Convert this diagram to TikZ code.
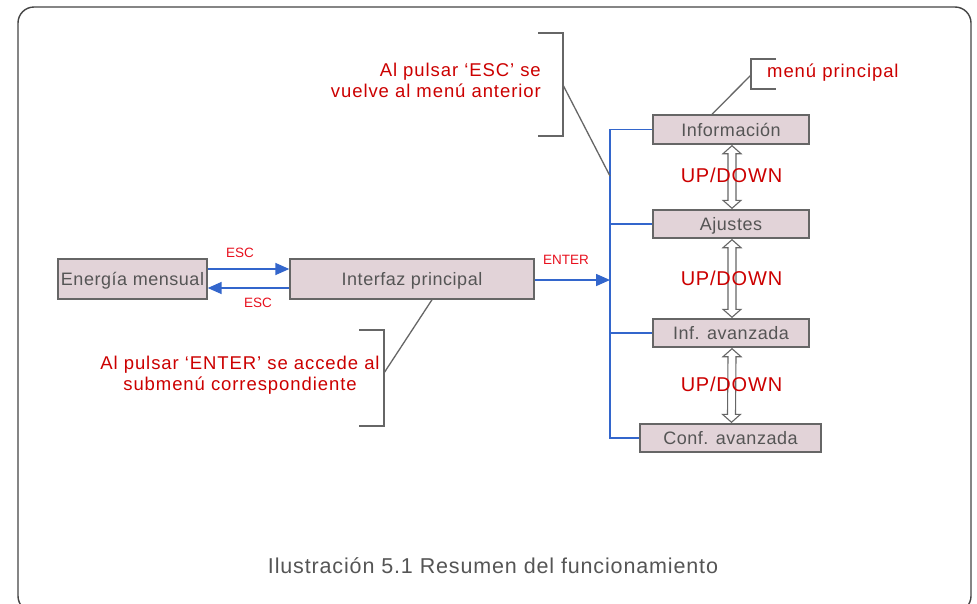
\documentclass[tikz,border=0pt]{standalone}
\usepackage{fontspec}
\setmainfont{Liberation Sans}
\newfontfamily\boxfont[LetterSpace=3]{Liberation Sans}
\newfontfamily\capfont[LetterSpace=4]{Liberation Sans}
\newfontfamily\annfont[LetterSpace=5]{Liberation Sans}
\usetikzlibrary{arrows.meta,calc}
\definecolor{boxfill}{HTML}{E2D3D8}
\definecolor{boxline}{HTML}{666666}
\definecolor{boxtext}{HTML}{555555}
\definecolor{busblue}{HTML}{3366CC}
\definecolor{annred}{HTML}{CC0000}
\definecolor{keyred}{HTML}{E8101E}
\definecolor{framecol}{HTML}{444444}
\tikzset{
  menubox/.style={draw=boxline, fill=boxfill, line width=1.4pt, inner sep=0pt,
    text=boxtext, font=\boxfont\fontsize{18}{20}\selectfont, text height=13pt, text depth=0pt},
  bus/.style={draw=busblue, line width=1.6pt},
  busarrow/.style={bus, -{Triangle[length=14pt,width=12pt]}},
  bracketline/.style={draw=boxline, line width=1.3pt},
  annot/.style={text=annred, font=\annfont\fontsize{18.5}{21.5}\selectfont, inner sep=0pt},
  keylabel/.style={text=keyred, font=\fontsize{13.5}{15}\selectfont, inner sep=0pt},
  updownlabel/.style={text=annred, font=\capfont\fontsize{20}{22}\selectfont, inner sep=0pt},
  udstyle/.style={draw=boxline, fill=white, line width=1.1pt, line join=miter},
}
% hollow double-headed arrow from the bottom of #1 to the top of #2
\newcommand\udarrow[2]{%
  \draw[udstyle] ($(#1.south)+(1,1)$) -- ++(9,8) -- ++(-5,0)
    -- ($(#2.north)+(5,-9)$) -- ++(5,0) -- ($(#2.north)+(1,-1)$)
    -- ++(-9,-8) -- ++(5,0) -- ($(#1.south)+(-3,9)$) -- ++(-5,0) -- cycle;}
\begin{document}
\begin{tikzpicture}[x=1pt,y=-1pt]
\useasboundingbox (0,0) rectangle (977,603);
\clip (0,0) rectangle (977,603);
\fill[white] (0,0) rectangle (977,603);
\draw[framecol, line width=1.4pt, rounded corners=16pt] (18,7) rectangle (971,612);

% boxes
\node[menubox, minimum width=149pt, minimum height=40pt] (energia) at (132.5,279) {Energía mensual};
\node[menubox, minimum width=244pt, minimum height=40pt] (interfaz) at (412,279) {Interfaz principal};
\node[menubox, minimum width=156pt, minimum height=29pt] (info) at (731,129.5) {Información};
\node[menubox, minimum width=156pt, minimum height=28pt] (ajustes) at (731,224) {Ajustes};
\node[menubox, minimum width=156pt, minimum height=28pt] (infav) at (731,333) {Inf. avanzada};
\node[menubox, minimum width=181pt, minimum height=28pt] (confav) at (730.5,438) {Conf. avanzada};

% bus
\coordinate (busTop) at (610,129.5);
\coordinate (busBot) at (610,438);
\draw[bus] (info.west) -- (busTop) -- (busBot) -- (confav.west);
\draw[bus] (ajustes.west) -- (ajustes.west -| busTop);
\draw[bus] (infav.west) -- (infav.west -| busTop);
\draw[busarrow] ([yshift=-1pt]interfaz.east) -- ([yshift=-1pt]interfaz.east -| busTop);

% ESC arrows
\draw[busarrow] ([yshift=10pt]energia.east) -- ([yshift=10pt]energia.east -| interfaz.west);
\draw[busarrow] ([yshift=-9pt]interfaz.west) -- ([yshift=-9pt]interfaz.west -| energia.east);
\node[keylabel] (esc1) at (240,253) {ESC};
\node[keylabel] (esc2) at (258,302.5) {ESC};
\node[keylabel] (enter) at (566,260) {ENTER};

% up/down arrows
\udarrow{info}{ajustes}
\udarrow{ajustes}{infav}
\udarrow{infav}{confav}
\node[updownlabel] (ud1) at (731.5,175) {UP/DOWN};
\node[updownlabel] (ud2) at (731.5,278.5) {UP/DOWN};
\node[updownlabel] (ud3) at (731.5,384) {UP/DOWN};

% ESC annotation
\node[annot, align=right, anchor=east] (esctext) at (541,80.5) {Al pulsar ‘ESC’ se\\vuelve al menú anterior};
\draw[bracketline] (538,33) -- (563,33) -- (563,136) -- (538,136);
\coordinate (escB) at (563,85);
\coordinate (busHit) at (610,176);
\draw[bracketline] (escB) -- (busHit);

% menu principal annotation
\draw[bracketline] (776,59) -- (751,59) -- (751,89) -- (776,89);
\coordinate (menuB) at (751,75);
\draw[bracketline] (menuB) -- ([xshift=-19pt]info.north);
\node[annot, anchor=west] (menutext) at (767,73) {menú principal};

% ENTER annotation
\draw[bracketline] (359,330) -- (384,330) -- (384,426) -- (359,426);
\coordinate (enterB) at (384,373);
\draw[bracketline] (enterB) -- ([xshift=20pt]interfaz.south);
\node[annot, align=center] (entertext) at (240,375) {Al pulsar ‘ENTER’ se accede al\\submenú correspondiente};

% caption
\node[text=boxtext, font=\capfont\fontsize{21.5}{24}\selectfont, inner sep=0pt] (caption) at (493,566) {Ilustración 5.1 Resumen del funcionamiento};
\end{tikzpicture}
\end{document}
